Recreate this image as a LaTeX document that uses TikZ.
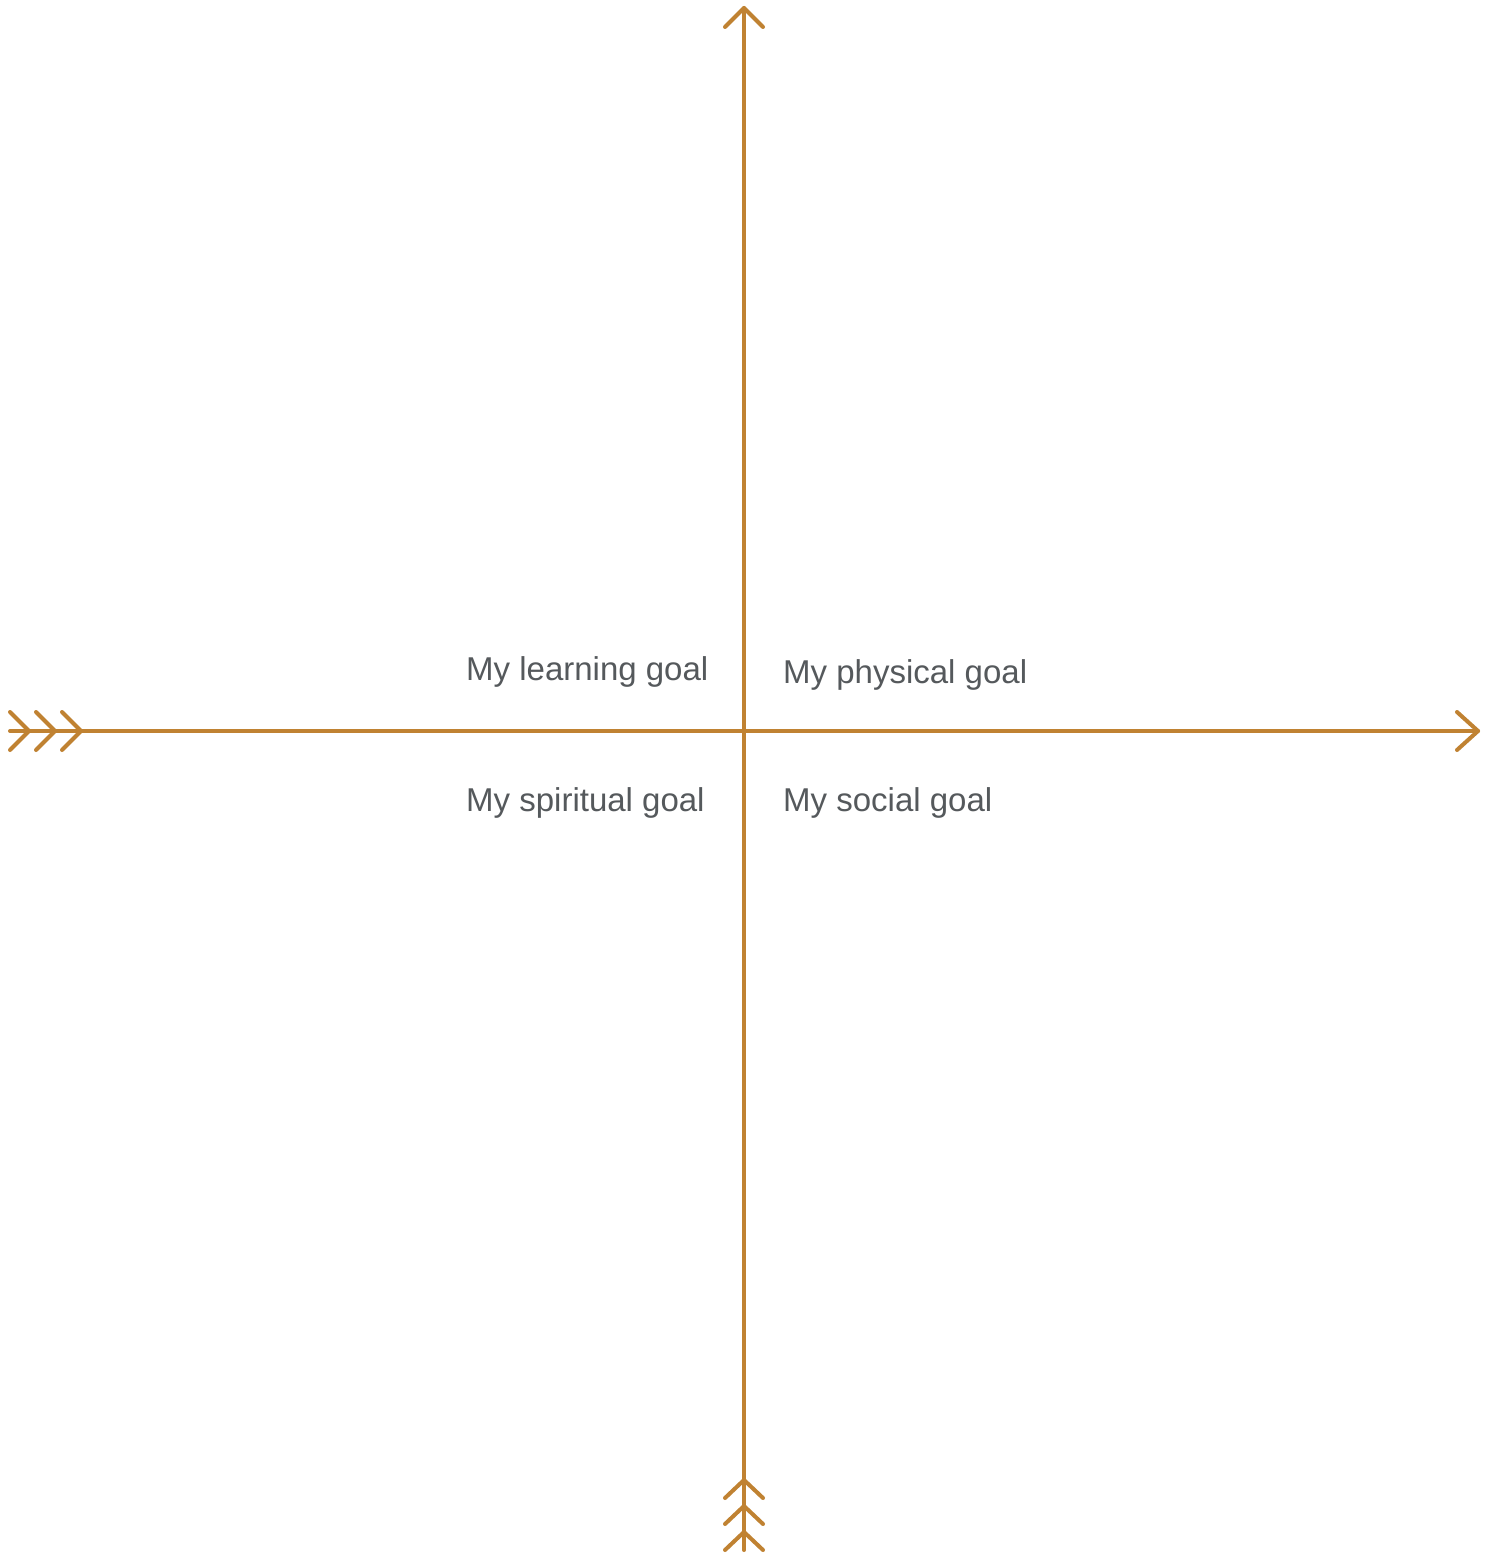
\documentclass[tikz,border=0pt]{standalone}
\usepackage{fontspec}
\setmainfont{Liberation Sans}
\definecolor{axisc}{RGB}{192,130,50}
\definecolor{textc}{RGB}{85,89,92}
\begin{document}
\begin{tikzpicture}[x=1pt,y=-1pt,
  axis/.style={draw=axisc,line width=4pt,line cap=round,line join=round},
  goal/.style={anchor=base west,inner sep=0pt,text=textc,font=\fontsize{33}{38}\selectfont}]
\useasboundingbox (0,0) rectangle (1494,1554);
\fill[white] (0,0) rectangle (1494,1554);
% axis end points
\coordinate (L) at (10,731);
\coordinate (R) at (1478,731);
\coordinate (T) at (744,8);
\coordinate (B) at (744,1550);
% axes
\draw[axis] (L) -- (R);
\draw[axis] (T) -- (B);
% right arrowhead
\draw[axis] ([xshift=-21pt,yshift=-19pt]R) -- (R) -- ([xshift=-21pt,yshift=19pt]R);
% top arrowhead
\draw[axis] ([xshift=-19pt,yshift=-19pt]T) -- (T) -- ([xshift=19pt,yshift=-19pt]T);
% left fletching
\foreach \tx in {29,55,81}
  \draw[axis] (\tx-19,712) -- (\tx,731) -- (\tx-19,750);
% bottom fletching
\foreach \ty in {1480,1506,1532}
  \draw[axis] (725,\ty+18) -- (744,\ty) -- (763,\ty+18);
% labels
\node[goal] (learn) at (466,680) {My learning goal};
\node[goal] (phys) at (783,683) {My physical goal};
\node[goal] (spir) at (466,811) {My spiritual goal};
\node[goal] (soc) at (783,811) {My social goal};
\end{tikzpicture}
\end{document}
